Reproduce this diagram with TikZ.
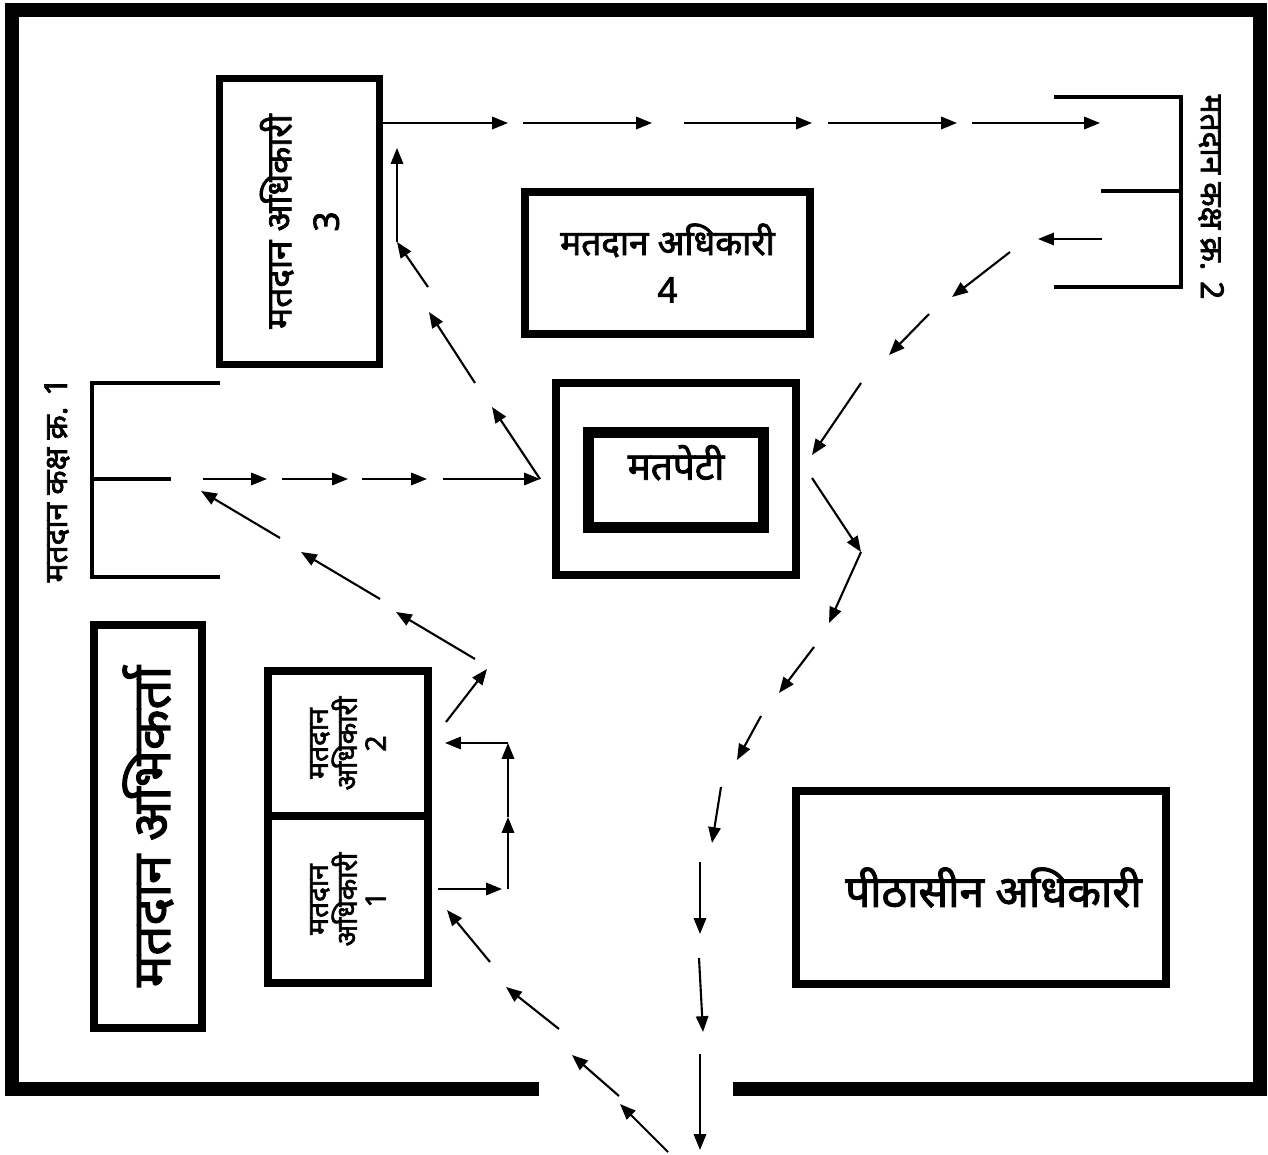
\documentclass[tikz,border=0pt]{standalone}
\usepackage{fontspec}
\newfontfamily\deva[Script=Devanagari,AutoFakeBold=2.2]{Noto Sans}
\usetikzlibrary{arrows.meta}

\begin{document}
\begin{tikzpicture}[x=0.02cm,y=-0.02cm]
    \tikzstyle{every node}=[font=\deva\bfseries]
    \tikzstyle{flow}=[-{Triangle[length=9pt,width=7pt]},line width=1.2pt]
    \tikzstyle{desk}=[draw,line width=4.5pt,inner sep=0pt,align=center]
    \tikzstyle{booth}=[line width=2.3pt]
    \tikzstyle{wall}=[line width=8.5pt,line join=miter]

    \useasboundingbox (0,0) rectangle (1268,1155);

    % Room walls, door gap at the bottom
    \draw[wall] (539,1089) -- (12,1089) -- (12,10) -- (1260,10) -- (1260,1089) -- (733,1089);

    % Desks
    \node[desk,rotate=90,minimum width=5.72cm,minimum height=3.2cm,
          font=\deva\bfseries\fontsize{20}{27}\selectfont] (off3) at (299.5,221.5) {मतदान अधिकारी\\3};
    \node[desk,minimum width=5.7cm,minimum height=2.84cm,
          font=\deva\bfseries\fontsize{20}{27}\selectfont] (off4) at (667.5,263) {मतदान अधिकारी\\4};
    \node[desk,rotate=90,minimum width=8.06cm,minimum height=2.16cm,
          font=\deva\bfseries\fontsize{30}{34}\selectfont] (agent) at (148,826.5) {मतदान अभिकर्ता};
    \node[desk,rotate=90,minimum width=2.9cm,minimum height=3.2cm,
          font=\deva\bfseries\fontsize{16}{16.5}\selectfont] (off2) at (348,743.5) {मतदान\\अधिकारी\\2};
    \node[desk,rotate=90,minimum width=3.34cm,minimum height=3.2cm,
          font=\deva\bfseries\fontsize{16}{16.5}\selectfont] (off1) at (348,899.5) {मतदान\\अधिकारी\\1};
    \node[desk,minimum width=7.4cm,minimum height=3.86cm,
          font=\deva\bfseries\fontsize{25}{30}\selectfont] (presiding) at (981,887.5) {\hspace*{0.5cm}पीठासीन अधिकारी};

    % Ballot box
    \node[desk,minimum width=4.8cm,minimum height=3.84cm] (boxout) at (676,479) {};
    \node[desk,line width=6pt,minimum width=3.5cm,minimum height=1.9cm,
          font=\deva\bfseries\fontsize{22}{24}\selectfont] (ballot) at (676,480) {मतपेटी\\[-4pt]};

    % Voting compartments
    \draw[booth] (220,383) -- (92,383) -- (92,577) -- (220,577);
    \draw[booth] (92,479) -- (171,479);
    \node[rotate=90,font=\deva\bfseries\fontsize{18}{20}\selectfont] (booth1) at (57,480) {मतदान कक्ष क्र. 1};
    \draw[booth] (1054,97) -- (1181,97) -- (1181,287) -- (1054,287);
    \draw[booth] (1101,191) -- (1181,191);
    \node[rotate=-90,font=\deva\bfseries\fontsize{18}{20}\selectfont] (booth2) at (1211,197) {मतदान कक्ष क्र. 2};

    % Way points of the voter's route
    \foreach \name/\x/\y in {e1/668/1152, e2/620/1104, e3/619/1096, e4/572/1055,
                             e5/559/1029, e6/506/987, e7/490/962, e8/447/910,
                             f1/438/889, f2/502/889, f3/508/889, f4/508/817,
                             f5/508/743, f6/445/743,
                             g1/446/722, g2/487/669, g3/475/659, g4/396/612,
                             g5/380/599, g6/301/552, g7/280/538, g8/201/491}
        \coordinate (\name) at (\x,\y);
    \foreach \name/\x/\y in {a1/203/479, a2/267/479, a3/282/479, a4/348/479,
                             a5/362/479, a6/427/479, a7/443/479, a8/540/479,
                             a9/492/407, a10/475/383, a11/429/312, a12/428/287,
                             a13/397/242, a14/397/148,
                             b1/383/123, b2/508/123, b3/523/123, b4/652/123,
                             b5/684/123, b6/812/123, b7/828/123, b8/957/123,
                             b9/972/123, b10/1100/123}
        \coordinate (\name) at (\x,\y);
    \foreach \name/\x/\y in {c1/1102/239, c2/1038/239, c3/1010/252, c4/952/297,
                             c5/929/314, c6/889/355, c7/861/383, c8/812/455,
                             d1/812/478, d2/861/552, d3/829/623, d4/814/647,
                             d5/779/693, d6/761/716, d7/737/760, d8/721/787,
                             d9/712/843, d10/700/862, d11/700/934, d12/699/958,
                             d13/703/1032, d14/700/1054, d15/700/1150}
        \coordinate (\name) at (\x,\y);

    % Entry up to the first officers
    \foreach \s/\t in {e1/e2, e3/e4, e5/e6, e7/e8, f1/f2, f3/f4, f4/f5, f5/f6,
                       g1/g2, g3/g4, g5/g6, g7/g8}
        \draw[flow] (\s) -- (\t);

    % Compartment 1, ballot box, officer 3 and compartment 2
    \foreach \s/\t in {a1/a2, a3/a4, a5/a6, a7/a8, a8/a9, a10/a11, a12/a13, a13/a14,
                       b1/b2, b3/b4, b5/b6, b7/b8, b9/b10}
        \draw[flow] (\s) -- (\t);

    % Back to the ballot box and out through the door
    \foreach \s/\t in {c1/c2, c3/c4, c5/c6, c7/c8, d1/d2, d2/d3, d4/d5, d6/d7,
                       d8/d9, d10/d11, d12/d13, d14/d15}
        \draw[flow] (\s) -- (\t);

\end{tikzpicture}
\end{document}
